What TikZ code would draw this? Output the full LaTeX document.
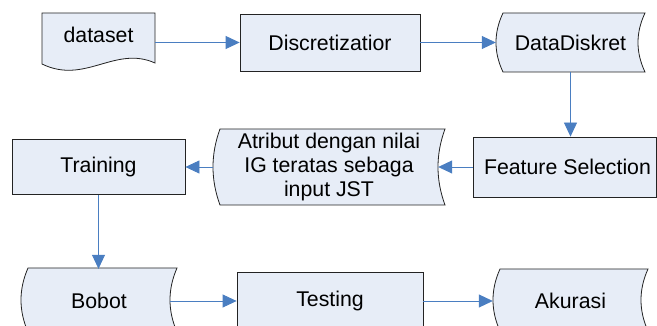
\documentclass[tikz,border=0pt]{standalone}
\usepackage{fontspec}
\setmainfont{Liberation Sans}
\usetikzlibrary{arrows.meta,calc}
\definecolor{boxfill}{RGB}{231,237,247}
\definecolor{arrowblue}{RGB}{74,126,193}
\definecolor{edgecol}{RGB}{35,35,35}
% stored-data outline: left, right, top, bottom, arc depth
\newcommand\sdshape[5]{%
  \filldraw[shp] ({#1+#5},#3) -- (#2,#3)
    .. controls ({#2-4*#5/3},{#3+(#4-#3)/3}) and ({#2-4*#5/3},{#4-(#4-#3)/3}) .. (#2,#4)
    -- ({#1+#5},#4)
    .. controls ({#1-#5/3},{#4-(#4-#3)/3}) and ({#1-#5/3},{#3+(#4-#3)/3}) .. cycle;}
\begin{document}
\begin{tikzpicture}[x=1pt,y=-1pt,
  shp/.style={fill=boxfill,draw=edgecol,line width=0.8pt},
  every node/.style={font=\fontsize{21.3}{24}\selectfont,inner sep=0pt,text=black},
  procbox/.style={shp,rectangle},
  plain/.style={rectangle,draw=none},
  arr/.style={draw=arrowblue,line width=0.8pt,-{Triangle[length=14pt,width=13pt]}}]
\useasboundingbox (0,0) rectangle (657,326);
\clip (0,0) rectangle (657,326);
% outlines
\filldraw[shp] (42,13) -- (155,13) -- (155,63)
  .. controls (115,45) and (85,85) .. (42,64) -- cycle;
\sdshape{496}{645}{13}{72}{7}
\sdshape{213}{445}{129}{205}{7}
\sdshape{21}{177}{268}{332}{7}
\sdshape{493}{648}{269}{331}{7}
% nodes
\node[plain,minimum width=113pt,minimum height=59pt] (ds) at (98.5,42.5) {};
\node[plain] (dslbl) at (98.5,35) {dataset};
\node[procbox,minimum width=180pt,minimum height=57pt] (disc) at (330,42.5) {Discretizatior};
\node[plain,minimum width=149pt,minimum height=59pt] (dd) at (570.5,42.5) {DataDiskret};
\node[procbox,minimum width=183.5pt,minimum height=60pt] (fs) at (565,167) {\hspace*{5pt}Feature Selection};
\node[plain,align=center,minimum width=232pt,minimum height=76pt] (atr) at (329,167) {Atribut dengan nilai\\IG teratas sebaga\\input JST};
\node[procbox,minimum width=173pt,minimum height=55pt] (tr) at (98.5,167) {Training};
\node[plain,minimum width=156pt,minimum height=64pt] (bo) at (99,301) {Bobot};
\node[procbox,minimum width=186pt,minimum height=58pt] (te) at (330,301) {Testing};
\node[plain,minimum width=155pt,minimum height=62pt] (ak) at (570.5,301) {Akurasi};
% connectors
\draw[arr] (ds.east) -- (disc.west);
\draw[arr] (disc.east) -- (dd.west);
\draw[arr] (dd.south) -- (dd.south |- fs.north);
\draw[arr] (fs.west) -- ([xshift=-7pt]atr.east);
\draw[arr] (atr.west) -- (tr.east);
\draw[arr] (tr.south) -- (tr.south |- bo.north);
\draw[arr] ([xshift=-7pt]bo.east) -- (te.west);
\draw[arr] (te.east) -- (ak.west);
\end{tikzpicture}
\end{document}
